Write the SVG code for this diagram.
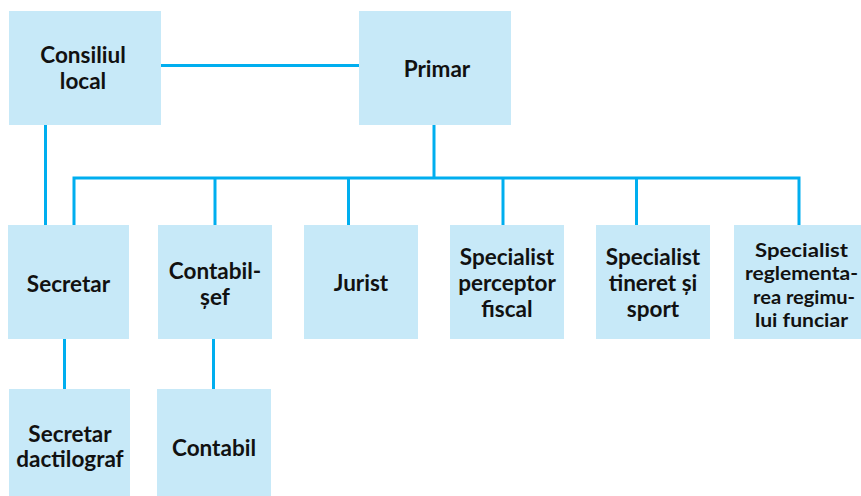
<svg xmlns="http://www.w3.org/2000/svg" width="861" height="496" viewBox="0 0 861 496">
<style>
.box{fill:#c7e9f8}
.t{font-family:Lato,"Open Sans","Liberation Sans",sans-serif;font-weight:700;font-size:22.5px;fill:#111;text-anchor:middle}
.s{font-size:19.2px}
.c{stroke:#00aeef;stroke-width:3;fill:none}
</style>
<rect width="861" height="496" fill="#fff"/>
<g id="connectors">
<line class="c" x1="161" y1="65.5" x2="359" y2="65.5"/>
<line class="c" x1="45.5" y1="125" x2="45.5" y2="225"/>
<line class="c" x1="434" y1="125" x2="434" y2="178"/>
<polyline class="c" points="74,225 74,178 799,178 799,225"/>
<line class="c" x1="215" y1="178" x2="215" y2="225"/>
<line class="c" x1="348.5" y1="178" x2="348.5" y2="225"/>
<line class="c" x1="503" y1="178" x2="503" y2="225"/>
<line class="c" x1="636.5" y1="178" x2="636.5" y2="225"/>
<line class="c" x1="64.5" y1="339" x2="64.5" y2="389"/>
<line class="c" x1="213.5" y1="339" x2="213.5" y2="389"/>
</g>
<g id="consiliul">
<rect class="box" x="9" y="11" width="152" height="114"/>
<text class="t" x="83" y="63">Consiliul</text>
<text class="t" x="83" y="89">local</text>
</g>
<g id="primar">
<rect class="box" x="359" y="11" width="152" height="114"/>
<text class="t" x="437" y="77">Primar</text>
</g>
<g id="secretar">
<rect class="box" x="8" y="225" width="121" height="114"/>
<text class="t" x="68.5" y="291.5">Secretar</text>
</g>
<g id="contabil-sef">
<rect class="box" x="158" y="225" width="114" height="114"/>
<text class="t" x="215" y="279">Contabil-</text>
<text class="t" x="215" y="305">șef</text>
</g>
<g id="jurist">
<rect class="box" x="304" y="225" width="114" height="114"/>
<text class="t" x="361" y="291">Jurist</text>
</g>
<g id="perceptor">
<rect class="box" x="450" y="225" width="114" height="114"/>
<text class="t" x="507" y="265">Specialist</text>
<text class="t" x="507" y="291">perceptor</text>
<text class="t" x="507" y="317">fiscal</text>
</g>
<g id="tineret">
<rect class="box" x="596" y="225" width="114" height="114"/>
<text class="t" x="653" y="265">Specialist</text>
<text class="t" x="653" y="291">tineret și</text>
<text class="t" x="653" y="317">sport</text>
</g>
<g id="reglementarea">
<rect class="box" x="734" y="225" width="127" height="114"/>
<text class="t s" x="801.5" y="257" textLength="93" lengthAdjust="spacingAndGlyphs">Specialist</text>
<text class="t s" x="801.5" y="280.3" textLength="113" lengthAdjust="spacingAndGlyphs">reglementa-</text>
<text class="t s" x="804" y="303.6" textLength="102" lengthAdjust="spacingAndGlyphs">rea regimu-</text>
<text class="t s" x="801.5" y="327" textLength="93" lengthAdjust="spacingAndGlyphs">lui funciar</text>
</g>
<g id="dactilograf">
<rect class="box" x="9" y="389" width="121" height="107"/>
<text class="t" x="70" y="442">Secretar</text>
<text class="t" x="70" y="467">dactilograf</text>
</g>
<g id="contabil">
<rect class="box" x="157" y="389" width="114" height="107"/>
<text class="t" x="214" y="456">Contabil</text>
</g>
</svg>
